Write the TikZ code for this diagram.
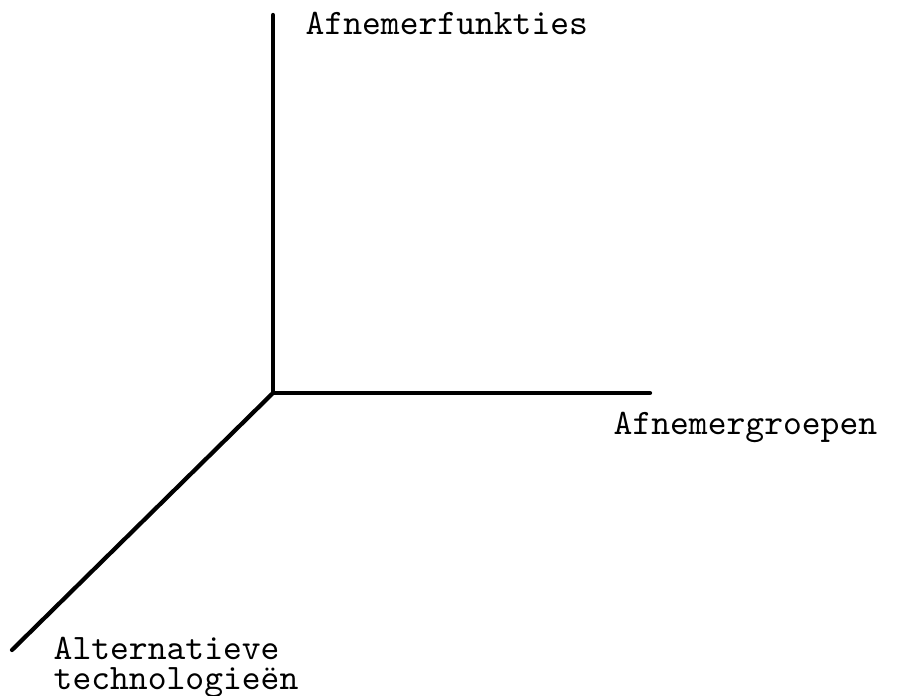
\documentclass[tikz,border=0pt]{standalone}
\usepackage{fontspec}
\usepackage{tikz}
\usetikzlibrary{positioning}
\tikzset{
  axis/.style={draw=black, line width=1.2pt, line cap=round},
  lbl/.style={font=\ttfamily\fontsize{10.2}{8.8}\selectfont, inner sep=0pt, align=left},
}
\begin{document}
\begin{tikzpicture}
    \useasboundingbox (0,0) rectangle (9,6.95);
    \coordinate (o) at (2.73,3.02);
    \coordinate (up) at (2.73,6.80);
    \coordinate (right) at (6.50,3.02);
    \coordinate (down) at (0.12,0.45);
    \draw[axis] (up) -- (o) -- (right);
    \draw[axis] (o) -- (down);
    \node[lbl, anchor=base west] (funkties) at (3.05,6.60) {Afnemerfunkties};
    \node[lbl, anchor=base west] (groepen) at (6.13,2.60) {Afnemergroepen};
    \node[lbl, anchor=north west] (techn) at (0.53,0.59)
      {Alternatieve\\technologieën};
  \end{tikzpicture}
\end{document}
